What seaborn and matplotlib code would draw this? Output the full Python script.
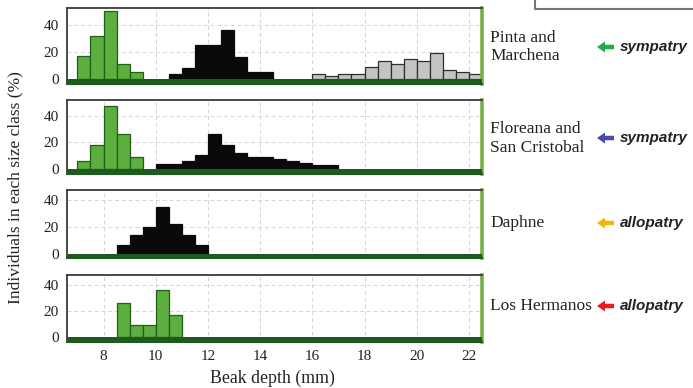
import numpy as np
import matplotlib
matplotlib.use("Agg")
import matplotlib.pyplot as plt
from matplotlib.patches import FancyArrow
import seaborn as sns

# beak depth classes (left edge of each 0.5 mm bin) and % of individuals
pinta_green_x = [7.0, 7.5, 8.0, 8.5, 9.0]
pinta_green_y = [17, 32, 50, 11, 5]
pinta_black_x = [10.5, 11.0, 11.5, 12.0, 12.5, 13.0, 13.5, 14.0]
pinta_black_y = [4, 8, 25, 25, 36, 16, 5, 5]
pinta_gray_x = [16.0, 16.5, 17.0, 17.5, 18.0, 18.5, 19.0, 19.5, 20.0, 20.5, 21.0, 21.5, 22.0]
pinta_gray_y = [4, 2, 4, 4, 9, 13, 11, 15, 13, 19, 7, 5, 4]

flor_green_x = [7.0, 7.5, 8.0, 8.5, 9.0]
flor_green_y = [5.5, 17.5, 47.5, 26, 8.5]
flor_black_x = [10.0, 10.5, 11.0, 11.5, 12.0, 12.5, 13.0, 13.5, 14.0, 14.5, 15.0, 15.5, 16.0, 16.5]
flor_black_y = [3.5, 3.5, 5.5, 10.5, 26, 18, 12, 9, 9, 7.5, 5.5, 4, 3, 3]

daphne_x = [8.5, 9.0, 9.5, 10.0, 10.5, 11.0, 11.5]
daphne_y = [7, 14, 20, 35, 22, 14, 7]

herm_x = [8.5, 9.0, 9.5, 10.0, 10.5]
herm_y = [26, 9, 9, 36, 17]

islands = ["Pinta and\nMarchena", "Floreana and\nSan Cristobal", "Daphne", "Los Hermanos"]
modes = ["sympatry", "sympatry", "allopatry", "allopatry"]
arrow_cols = ["#1fae4b", "#4a4aa6", "#f6b40e", "#ec1c24"]
x_ticks = [8, 10, 12, 14, 16, 18, 20, 22]
y_ticks = [0, 20, 40]

GREEN = "#5cae3e"
GREEN_EDGE = "#245c1a"
DARK = "#1d5a1d"

sns.set_style("white")
plt.rcParams["font.family"] = ["Liberation Serif", "DejaVu Serif"]

W, H = 693, 388
fig = plt.figure(figsize=(W / 100, H / 100), dpi=100)

# panel boxes in pixels: (top, bottom) and y-limits
boxes = [(8, 84), (100, 174), (190, 258), (275, 342)]
ylims = [(-3.6, 52.4), (-4.0, 51.8), (-2.9, 47.3), (-3.8, 47.5)]
L, R = 67, 482


def bars(ax, xs, ys, color, edge, lw=0.9):
    xs = np.array(xs)
    sns.histplot(x=xs + 0.25, weights=ys, binwidth=0.5,
                 binrange=(xs[0], xs[-1] + 0.5), color=color,
                 edgecolor=edge, linewidth=lw, alpha=1, ax=ax)


groups = [
    [(pinta_green_x, pinta_green_y, GREEN, GREEN_EDGE),
     (pinta_black_x, pinta_black_y, "#0a0a0a", "#0a0a0a"),
     (pinta_gray_x, pinta_gray_y, "#c4c4c4", "#2e2e2e")],
    [(flor_green_x, flor_green_y, GREEN, GREEN_EDGE),
     (flor_black_x, flor_black_y, "#0a0a0a", "#0a0a0a")],
    [(daphne_x, daphne_y, "#0a0a0a", "#0a0a0a")],
    [(herm_x, herm_y, GREEN, GREEN_EDGE)],
]

label_y = [47, 138, 223, 306]

for i, (top, bot) in enumerate(boxes):
    ax = fig.add_axes([L / W, 1 - bot / H, (R - L) / W, (bot - top) / H])
    for xs, ys, c, e in groups[i]:
        bars(ax, xs, ys, c, e)
    ax.set_xlim(6.6, 22.5)
    ax.set_ylim(*ylims[i])
    ax.axhspan(ylims[i][0], 0, color=DARK, zorder=3, lw=0)
    ax.set_yticks(y_ticks)
    ax.set_xticks(x_ticks)
    ax.grid(True, color="#d4d4d4", linestyle=(0, (4, 3)), linewidth=0.7)
    ax.set_axisbelow(True)
    ax.tick_params(length=0, labelsize=11, pad=6, labelcolor="#222222")
    ax.set_ylabel("")
    ax.set_xlabel("")
    if i < 3:
        ax.set_xticklabels([])
    ax.spines["top"].set_color("#3a3a3a")
    ax.spines["left"].set_color("#3a3a3a")
    ax.spines["top"].set_linewidth(1.3)
    ax.spines["left"].set_linewidth(1.3)
    ax.spines["right"].set_color("#76b043")
    ax.spines["right"].set_linewidth(2.6)
    ax.spines["bottom"].set_color(DARK)
    ax.spines["bottom"].set_linewidth(1.5)
    for s in ax.spines.values():
        s.set_visible(True)

    fig.text(490 / W, 1 - label_y[i] / H, islands[i], fontsize=12.5, va="center",
             ha="left", linespacing=1.25, color="#222222")
    ay = label_y[i]
    # short fat arrow pointing left, drawn in inches so it keeps its shape
    fig.add_artist(FancyArrow(6.14, (H - ay) / 100, -0.17, 0, width=0.045,
                              head_width=0.11, head_length=0.08,
                              length_includes_head=True, color=arrow_cols[i],
                              lw=0, transform=fig.dpi_scale_trans))
    fig.text(620 / W, 1 - ay / H, modes[i], fontsize=11, va="center", ha="left",
             family=["Liberation Sans", "DejaVu Sans"], fontweight="bold",
             style="italic", color="#222222")

fig.text(15 / W, 1 - 188 / H, "Individuals in each size class (%)", rotation=90,
         fontsize=12.5, va="center", ha="center", color="#222222")
fig.text(272 / W, 1 - 378 / H, "Beak depth (mm)", fontsize=12.8, va="center",
         ha="center", color="#222222")

# partial frame at top right
fig.add_artist(plt.Line2D([535 / W, 535 / W, 1.0], [1.0, 1 - 9 / H, 1 - 9 / H],
                          transform=fig.transFigure, color="#777777", lw=1.5))

fig.savefig("out.png", dpi=100)
